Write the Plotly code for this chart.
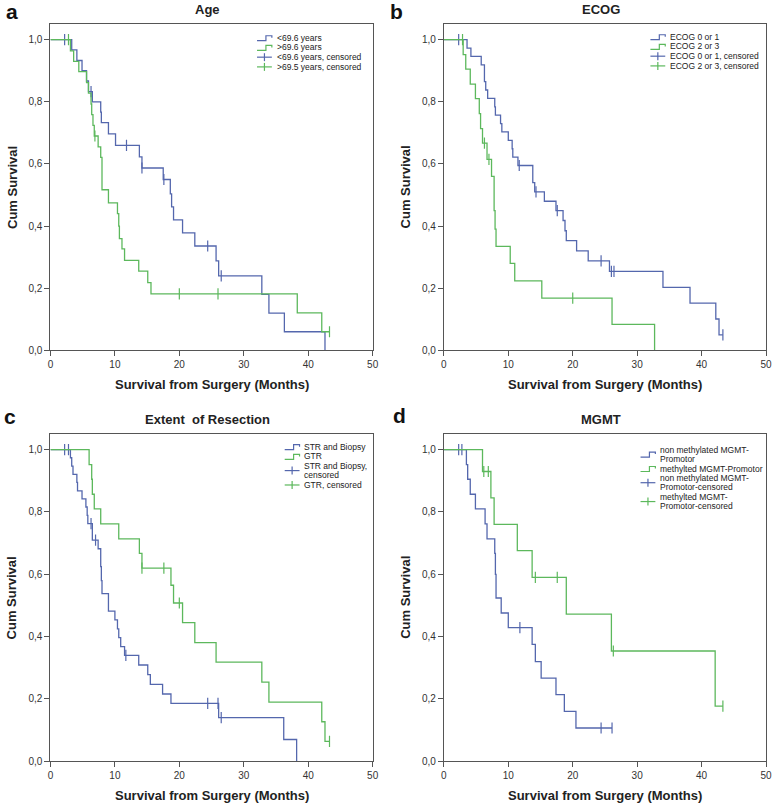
import numpy as np
import plotly.graph_objects as go
from plotly.subplots import make_subplots

W, H = 778, 811
BLUE = '#5467ad'
GREEN = '#5cb85c'
FONT = 'Liberation Sans, Arial, sans-serif'

# ---- data (months, cumulative survival after each event) ----
age_young_t = [3.3, 4.1, 4.9, 5.6, 5.9, 6.5, 7.8, 7.9, 9.0, 10.1, 13.8, 14.2, 17.5, 18.6, 18.8, 19.1,
               20.5, 22.4, 25.7, 26.1, 32.8, 33.9, 36.3, 42.6]
age_young_s = [0.967, 0.933, 0.900, 0.867, 0.833, 0.800, 0.767, 0.733, 0.697, 0.660, 0.623, 0.587, 0.550,
               0.504, 0.462, 0.420, 0.378, 0.336, 0.288, 0.240, 0.180, 0.120, 0.060, 0.0]
age_young_c = [2.2, 6.3, 11.8, 14.2, 17.6, 24.4, 26.5]

age_old_t = [3.1, 3.6, 4.4, 5.6, 5.9, 6.3, 6.4, 6.6, 6.8, 7.4, 7.8, 8.0, 9.0, 10.4, 10.6, 10.7, 11.1,
             11.5, 13.7, 15.1, 15.6, 38.3, 42.1]
age_old_s = [0.964, 0.930, 0.897, 0.862, 0.828, 0.793, 0.759, 0.724, 0.690, 0.655, 0.621, 0.517, 0.475,
             0.440, 0.400, 0.360, 0.327, 0.290, 0.255, 0.218, 0.182, 0.121, 0.060]
age_old_c = [2.8, 6.9, 20.0, 26.0, 43.3]

ecog01_t = [3.6, 4.2, 5.8, 6.3, 6.5, 6.8, 7.9, 8.0, 8.8, 9.0, 10.0, 10.6, 10.7, 11.5, 13.8, 14.1, 15.6,
            17.4, 18.5, 18.8, 19.0, 20.6, 22.4, 25.7, 34.0, 38.2, 42.2, 42.7]
ecog01_s = [0.973, 0.946, 0.919, 0.865, 0.838, 0.811, 0.784, 0.757, 0.730, 0.703, 0.676, 0.649, 0.622,
            0.595, 0.540, 0.510, 0.480, 0.450, 0.418, 0.385, 0.353, 0.320, 0.288, 0.254, 0.203, 0.152,
            0.101, 0.050]
ecog01_c = [2.3, 11.7, 14.3, 17.6, 24.4, 26.0, 26.4, 43.3]

ecog23_t = [3.0, 3.4, 4.1, 4.9, 5.5, 5.7, 6.0, 6.7, 7.4, 7.8, 7.95, 8.1, 10.3, 11.0, 15.2, 26.1, 32.7]
ecog23_s = [0.952, 0.905, 0.857, 0.810, 0.762, 0.714, 0.667, 0.615, 0.560, 0.450, 0.390, 0.335, 0.280,
            0.224, 0.168, 0.084, 0.0]
ecog23_c = [2.9, 6.3, 7.0, 20.0]

str_t = [3.1, 3.3, 3.5, 4.1, 4.2, 4.9, 5.5, 5.7, 5.8, 6.5, 7.4, 7.8, 7.9, 8.0, 9.0, 10.0, 10.4, 10.6,
         10.9, 11.5, 13.7, 15.1, 15.5, 17.4, 18.7, 26.1, 36.2, 38.2]
str_s = [0.974, 0.947, 0.921, 0.895, 0.868, 0.842, 0.816, 0.789, 0.763, 0.710, 0.682, 0.625, 0.580,
         0.538, 0.482, 0.454, 0.425, 0.397, 0.368, 0.340, 0.309, 0.278, 0.247, 0.216, 0.186, 0.140,
         0.070, 0.0]
str_c = [2.2, 2.8, 6.3, 7.0, 11.7, 24.4, 26.0, 26.5]

gtr_t = [6.0, 6.4, 6.5, 6.8, 7.8, 10.6, 13.8, 14.2, 18.7, 19.1, 20.5, 22.4, 25.7, 32.8, 33.9, 42.1, 42.6]
gtr_s = [0.952, 0.905, 0.857, 0.810, 0.762, 0.714, 0.667, 0.620, 0.565, 0.508, 0.445, 0.381, 0.318,
         0.254, 0.190, 0.127, 0.064]
gtr_c = [14.2, 17.6, 20.0, 43.3]

unmeth_t = [3.5, 3.7, 4.1, 4.9, 6.4, 6.7, 7.9, 8.0, 8.1, 8.9, 10.0, 13.7, 14.2, 15.1, 17.4, 18.7, 20.5]
unmeth_s = [0.952, 0.905, 0.857, 0.810, 0.762, 0.714, 0.667, 0.600, 0.524, 0.476, 0.429, 0.375, 0.320,
            0.267, 0.214, 0.160, 0.107]
unmeth_c = [2.3, 2.8, 11.8, 24.4, 26.1]

meth_t = [6.0, 7.3, 7.8, 11.4, 13.7, 19.0, 26.0, 42.1]
meth_s = [0.930, 0.845, 0.760, 0.676, 0.590, 0.472, 0.354, 0.177]
meth_c = [6.2, 6.9, 14.2, 17.6, 26.3, 43.3]

panel_titles = ['Age', 'ECOG', 'Extent  of Resection', 'MGMT']
panel_letters = ['a', 'b', 'c', 'd']
x_title = 'Survival from Surgery (Months)'
y_title = 'Cum Survival'
x_ticks = [0, 10, 20, 30, 40, 50]
y_ticks = [0.0, 0.2, 0.4, 0.6, 0.8, 1.0]
y_tick_text = ['0,0', '0,2', '0,4', '0,6', '0,8', '1,0']

legend_a = [['<69.6 years'], ['>69.6 years'], ['<69.6 years, censored'], ['>69.5 years, censored']]
legend_b = [['ECOG 0 or 1'], ['ECOG 2 or 3'], ['ECOG 0 or 1, censored'], ['ECOG 2 or 3, censored']]
legend_c = [['STR and Biopsy'], ['GTR'], ['STR and Biopsy,', 'censored'], ['GTR, censored']]
legend_d = [['non methylated MGMT-', 'Promotor'], ['methylted MGMT-Promotor'],
            ['non methylated MGMT-', 'Promotor-censored'], ['methylted MGMT-', 'Promotor-censored']]

panels = [
    (age_young_t, age_young_s, age_young_c, age_old_t, age_old_s, age_old_c, legend_a),
    (ecog01_t, ecog01_s, ecog01_c, ecog23_t, ecog23_s, ecog23_c, legend_b),
    (str_t, str_s, str_c, gtr_t, gtr_s, gtr_c, legend_c),
    (unmeth_t, unmeth_s, unmeth_c, meth_t, meth_s, meth_c, legend_d),
]


def km_line(t, s, c):
    x = [0] + list(t)
    y = [1.0] + list(s)
    if s[-1] > 0 and max(c) > t[-1]:
        x.append(max(c))
        y.append(s[-1])
    return x, y


def km_at(t, s, c):
    idx = np.searchsorted(np.array(t), np.array(c), side='right') - 1
    return [1.0 if i < 0 else s[i] for i in idx]


def px(x):
    return x / W


def py(y):
    return 1 - y / H


# frame boxes in pixels: (left, top, right, bottom)
boxes = [(48, 24, 374, 353), (446, 24, 772, 353), (48, 437, 374, 767), (446, 437, 772, 767)]

fig = make_subplots(rows=2, cols=2)
axis_style = dict(showline=True, linecolor='#555', linewidth=1, mirror=True, showgrid=False,
                  zeroline=False, ticks='outside', ticklen=5, tickcolor='#555',
                  tickfont=dict(family=FONT, size=10, color='#333'))

for k, (t1, s1, c1, t2, s2, c2, _) in enumerate(panels):
    r, col = k // 2 + 1, k % 2 + 1
    for t, s, c, colr in [(t1, s1, c1, BLUE), (t2, s2, c2, GREEN)]:
        x, y = km_line(t, s, c)
        fig.add_trace(go.Scatter(x=x, y=y, mode='lines', line=dict(color=colr, width=1.3, shape='hv'),
                                 showlegend=False, hoverinfo='skip'), row=r, col=col)
        fig.add_trace(go.Scatter(x=c, y=km_at(t, s, c), mode='markers',
                                 marker=dict(symbol='line-ns', size=8, line=dict(color=colr, width=1.2)),
                                 showlegend=False), row=r, col=col)
    l, tp, rt, bt = boxes[k]
    sfx = '' if k == 0 else str(k + 1)
    fig.layout['xaxis' + sfx].update(domain=[px(l), px(rt)], range=[0, 50], tickvals=x_ticks, **axis_style)
    fig.layout['yaxis' + sfx].update(domain=[py(bt), py(tp)], range=[0, 1.051], tickvals=y_ticks,
                                     ticktext=y_tick_text, **axis_style)

annotations = []
shapes = []


def text(x, y, s, size, bold=False, angle=0, xanchor='center', color='#222'):
    annotations.append(dict(x=px(x), y=py(y), xref='paper', yref='paper', text=s, showarrow=False,
                            xanchor=xanchor, yanchor='middle', textangle=angle,
                            font=dict(family=FONT, size=size, color=color,
                                      weight='bold' if bold else 'normal')))


letter_pos = [(9, 12), (398, 12), (7, 420), (401, 419)]
# legend layout: icon x offset from box left, first row y offset from box top
legend_off = [(209, 14), (209, 13), (237, 13), (199, 16)]
LS = 9.0
for k in range(4):
    l, tp, rt, bt = boxes[k]
    cx = (l + rt) / 2
    text(cx - 4, tp - 14, panel_titles[k], 13, bold=True)
    text(cx, bt + 34, x_title, 13, bold=True)
    text(l - 39, (tp + bt) / 2, y_title, 13, bold=True, angle=-90)
    text(letter_pos[k][0], letter_pos[k][1], panel_letters[k], 21, bold=True, color='#111')

    ox, oy = legend_off[k]
    ix, ty = l + ox, tp + oy
    entries = panels[k][6]
    for j, lines in enumerate(entries):
        colr = BLUE if j % 2 == 0 else GREEN
        for n, ln in enumerate(lines):
            text(ix + 18, ty + n * LS, ln, 8.5, xanchor='left')
        iy = ty + (len(lines) - 1) * LS / 2
        if j < 2:
            path = 'M {} {} L {} {} L {} {} L {} {} L {} {}'.format(
                px(ix), py(iy + 3), px(ix + 9), py(iy + 3), px(ix + 9), py(iy - 2),
                px(ix + 15), py(iy - 2), px(ix + 15), py(iy))
            shapes.append(dict(type='path', path=path, xref='paper', yref='paper',
                               line=dict(color=colr, width=1.2)))
        else:
            shapes.append(dict(type='line', xref='paper', yref='paper', x0=px(ix), x1=px(ix + 15),
                               y0=py(iy), y1=py(iy), line=dict(color=colr, width=1.2)))
            shapes.append(dict(type='line', xref='paper', yref='paper', x0=px(ix + 7.5), x1=px(ix + 7.5),
                               y0=py(iy - 4), y1=py(iy + 4), line=dict(color=colr, width=1.2)))
        ty += len(lines) * LS + 1.0 if len(lines) > 1 else 9.8

fig.update_layout(width=W, height=H, margin=dict(l=0, r=0, t=0, b=0), plot_bgcolor='white',
                  paper_bgcolor='white', annotations=annotations, shapes=shapes, showlegend=False)
fig.write_html("out.html", config={'displayModeBar': False},
               post_script="document.body.style.margin='0';")
